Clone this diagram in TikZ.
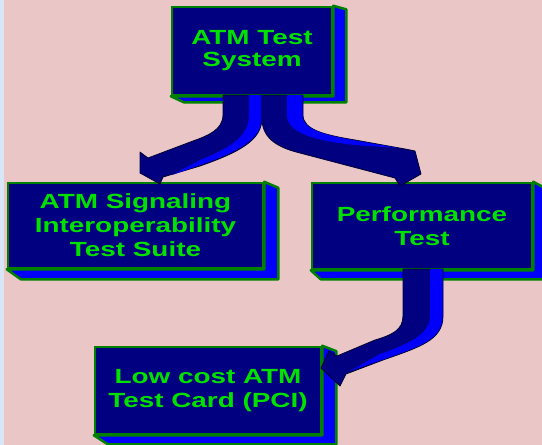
\documentclass[tikz,border=0pt]{standalone}
\usepackage{fontspec}
\newfontfamily\lblfont{Liberation Sans}[FakeStretch=1.36]
\usetikzlibrary{calc}
\definecolor{bgpink}{RGB}{234,198,198}
\definecolor{bgblue}{RGB}{216,230,248}
\definecolor{navy}{RGB}{0,0,128}
\definecolor{sideblue}{RGB}{0,0,250}
\definecolor{edgegreen}{RGB}{0,128,0}
\definecolor{txtgreen}{RGB}{0,225,0}
\definecolor{darkedge}{RGB}{0,0,50}
\tikzset{
  frontbox/.style={draw=edgegreen, line width=2.5pt, fill=navy, text=txtgreen,
    align=center, inner sep=0pt,
    font=\lblfont\bfseries\fontsize{20.5}{24}\selectfont},
  sideface/.style={draw=edgegreen, line width=2.5pt, fill=sideblue, line join=round},
  arrowbody/.style={fill=navy, draw=darkedge, line width=0.8pt, line join=round},
  arrowside/.style={fill=sideblue},
}
\newcommand\extrude[3]{%
  \draw[sideface] (#1.south west) -- ++(#2,#3) -- ($(#1.south east)+(#2,#3)$)
    -- ($(#1.north east)+(#2,#3*0.6)$) -- (#1.north east) -- (#1.south east) -- cycle;}
\begin{document}
\begin{tikzpicture}[x=1pt,y=-1pt]
\useasboundingbox (0,0) rectangle (542,445);
\fill[bgpink] (0,0) rectangle (542,445);
\fill[bgblue] (0,0) rectangle (4,445);

% boxes
\node[frontbox, minimum width=160pt, minimum height=88pt] (top) at (252,51)
  {ATM Test\\[-2pt]System};
\extrude{top}{13}{6}
\node[frontbox, minimum width=255pt, minimum height=85pt] (sig) at (135.5,225.5)
  {ATM Signaling\\Interoperability\\Test Suite};
\extrude{sig}{14}{10}
\node[frontbox, minimum width=220pt, minimum height=86pt] (perf) at (422,226)
  {Performance\\Test};
\extrude{perf}{10}{9}
\node[frontbox, minimum width=226pt, minimum height=87pt] (card) at (208,390.5)
  {Low cost ATM\\Test Card (PCI)};
\extrude{card}{14}{9}

% left arrow
\draw[arrowbody] (223,95) -- (223,115) .. controls (223,130) and (207,136) .. (193,141)
  -- (148,158) -- (140,152) -- (140,173) -- (160,184) -- (163,177)
  -- (200,166) .. controls (240,152) and (262,140) .. (262,118) -- (262,95) -- cycle;
\fill[arrowside] (249,95) -- (261.5,95) -- (261.5,118) .. controls (261.5,139) and (240,151) .. (200,165)
  -- (172,175) -- (200,160) .. controls (233,147) and (249,135) .. (249,115) -- cycle;

% right arrow
\draw[arrowbody] (262,95) -- (262,120) .. controls (263,140) and (280,148) .. (300,153)
  -- (395,178) -- (400,186) -- (421,174) -- (415,151) -- (405,149)
  -- (355,140) .. controls (325,135) and (303,130) .. (303,115) -- (303,95) -- cycle;
\fill[arrowside] (287,95) -- (302.5,95) -- (302.5,115) .. controls (302.5,130) and (325,135) .. (355,140.5)
  -- (398,148) -- (355,145) .. controls (316,141) and (287,133) .. (287,115) -- cycle;

% bottom arrow
\draw[arrowbody] (403,269) -- (403,316) .. controls (403,330) and (392,335) .. (375,340)
  -- (337,356) -- (329,351) -- (321,368) -- (340,386) -- (346,374)
  -- (383,360) .. controls (420,347) and (443,340) .. (443,316) -- (443,269) -- cycle;
\fill[arrowside] (430,269) -- (442.5,269) -- (442.5,316) .. controls (442.5,339.5) and (420,346.5) .. (383,359.5)
  -- (350,371) -- (380,354) .. controls (415,342) and (430,332) .. (430,316) -- cycle;
\end{tikzpicture}
\end{document}
